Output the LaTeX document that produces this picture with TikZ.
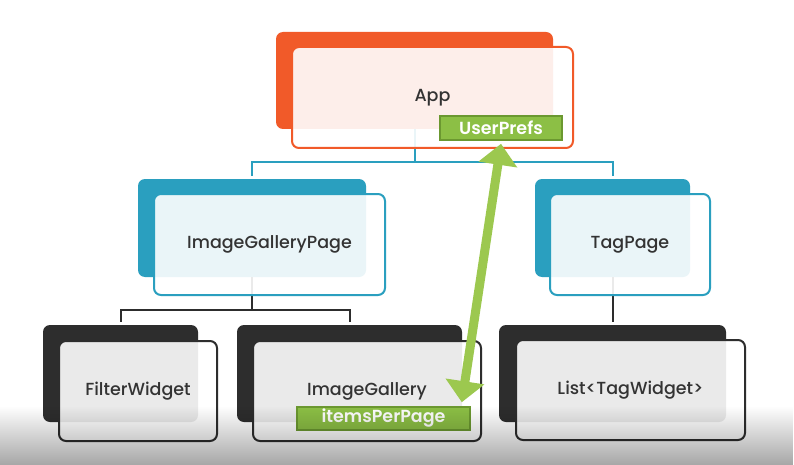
\documentclass[tikz,border=0pt]{standalone}
\usepackage{fontspec}
\setmainfont{Poppins}[UprightFont=*-Medium,BoldFont=*-SemiBold]
\usetikzlibrary{arrows.meta}
\usetikzlibrary{fadings}

\definecolor{appOrange}{HTML}{F15A29}
\definecolor{pageTeal}{HTML}{2A9FBF}
\definecolor{widgetBlack}{HTML}{2D2D2D}
\definecolor{propGreen}{HTML}{8CBF45}
\definecolor{propGreenDark}{HTML}{6B9830}
\definecolor{arrowGreen}{HTML}{9CC84F}
\definecolor{labelGray}{HTML}{333333}

\tikzfading[name=fadeDown, top color=transparent!100, bottom color=transparent!0]

\tikzset{
  backbox/.style={rectangle,rounded corners=7pt,inner sep=0pt},
  frontbox/.style={rectangle,rounded corners=7pt,inner sep=0pt,line width=2pt,
    fill=white,fill opacity=0.9,text opacity=1,text=labelGray,font=\fontsize{17.5}{20}\selectfont},
  propbox/.style={rectangle,inner sep=0pt,fill=propGreen,draw=propGreenDark,line width=1.6pt,
    text=white,font=\fontsize{17.5}{20}\selectfont\bfseries},
  link/.style={line width=2pt,shorten >=3pt}
}

\begin{document}
\begin{tikzpicture}[x=1pt,y=-1pt]
\useasboundingbox (0,0) rectangle (794,465);
\fill[white] (0,0) rectangle (794,465);

\node[backbox,fill=appOrange,minimum width=277,minimum height=97] (appB) at (414.5,80.5) {};
\node[backbox,fill=pageTeal,minimum width=228,minimum height=98] (igpB) at (252,228) {};
\node[backbox,fill=pageTeal,minimum width=155,minimum height=98] (tagB) at (612.5,228) {};
\node[backbox,fill=widgetBlack,minimum width=155,minimum height=97] (filterB) at (120.5,373.5) {};
\node[backbox,fill=widgetBlack,minimum width=225,minimum height=97] (igB) at (349.5,373.5) {};
\node[backbox,fill=widgetBlack,minimum width=227,minimum height=97] (listB) at (612.5,373.5) {};

\coordinate (jTop) at (appB.south |- 0,162);
\coordinate (jIgp) at (igpB.south |- 0,310);
\draw[link,pageTeal] (appB.south) -- (jTop) -| (igpB.north);
\draw[link,pageTeal] (jTop) -| (tagB.north);
\draw[link,widgetBlack] (igpB.south) -- (jIgp) -| (filterB.north);
\draw[link,widgetBlack] (jIgp) -| (igB.north);
\draw[link,widgetBlack] (tagB.south) -- (listB.north);

\node[frontbox,draw=appOrange,minimum width=281,minimum height=101] (app) at (432.5,97.5) {App};
\node[frontbox,draw=pageTeal,minimum width=231,minimum height=101] (igp) at (269.5,244.5) {ImageGalleryPage};
\node[frontbox,draw=pageTeal,minimum width=160,minimum height=101] (tag) at (630,244.5) {TagPage};
\node[frontbox,draw=widgetBlack,minimum width=158,minimum height=100] (filter) at (138,391) {FilterWidget};
\node[frontbox,draw=widgetBlack,minimum width=228,minimum height=100] (ig) at (367,391) {ImageGallery};
\node[frontbox,draw=widgetBlack,minimum width=229,minimum height=100] (list) at (630.5,390) {List<TagWidget>};

\node[propbox,minimum width=122,minimum height=24] (userPrefs) at (501,128) {UserPrefs};
\node[propbox,minimum width=173,minimum height=23] (ipp) at (383.5,418.5) {itemsPerPage};

\coordinate (arrTop) at ([yshift=-3pt]userPrefs.south);
\coordinate (arrBot) at ([xshift=-9pt,yshift=4pt]ipp.north east);
\draw[arrowGreen,line width=9pt,{Triangle[width=38pt,length=21pt]}-{Triangle[width=38pt,length=21pt]}] (arrTop) -- (arrBot);

\fill[black,opacity=0.35,path fading=fadeDown] (0,406) rectangle (794,465);
\end{tikzpicture}
\end{document}
